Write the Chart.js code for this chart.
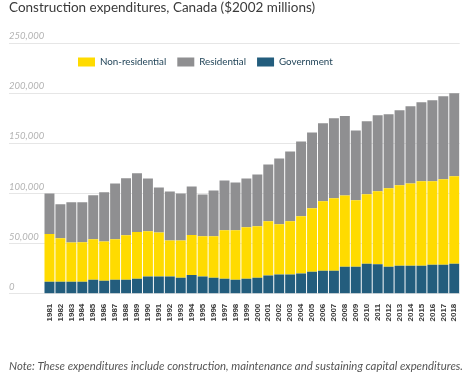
<!DOCTYPE html>
<html>
<head>
<meta charset="utf-8">
<script src="https://cdn.jsdelivr.net/npm/chart.js@4.4.1/dist/chart.umd.min.js"></script>
<style>
  html, body { margin: 0; padding: 0; background: #ffffff; }
  #wrap { width: 474px; height: 381px; position: relative; }
</style>
</head>
<body>
<div id="wrap"><canvas id="c"></canvas></div>
<script>
const years = ['1981','1982','1983','1984','1985','1986','1987','1988','1989','1990','1991','1992','1993','1994','1995','1996','1997','1998','1999','2000','2001','2002','2003','2004','2005','2006','2007','2008','2009','2010','2011','2012','2013','2014','2015','2016','2017','2018'];
const government = [12000,12000,12000,12000,14000,13000,14000,14000,15000,17300,17300,17300,16000,18700,17300,16000,15000,14000,15000,16000,18300,19300,19300,20300,22000,23000,23000,27000,27000,30000,29300,27000,28000,28000,28000,29000,29000,30000];
const nonResidential = [47700,43300,39000,39300,40300,39000,40300,44300,46700,45000,43700,35700,37000,40000,40000,41300,48300,49300,51300,51300,54000,50000,53000,57000,63300,69300,72300,71000,66300,69300,73000,78300,80300,82000,84300,83300,85300,87300];
const residential = [40300,34000,40300,40000,44000,49300,55700,57000,58600,52700,45000,49000,47000,48300,41700,45700,49700,47700,48700,51700,56700,65700,69700,74700,75700,77700,79700,79300,69700,72700,75700,73700,74700,77000,78700,80700,82700,82700];
const yTicks = [0, 50000, 100000, 150000, 200000, 250000];
const titleText = 'Construction expenditures, Canada ($2002 millions)';
const noteText = 'Note: These expenditures include construction, maintenance and sustaining capital expenditures.';
const legendOrder = ['Non-residential', 'Residential', 'Government'];

// place the legend inside the plot, just under the top gridline
const legendPlace = {
  id: 'legendPlace',
  afterLayout(chart) {
    const lg = chart.legend;
    if (lg) {
      lg.left = 67; lg.right = chart.chartArea.right;
      lg.top = chart.chartArea.top + 3; lg.bottom = lg.top + 34;
      lg.width = lg.right - lg.left; lg.height = lg.bottom - lg.top;
    }
  }
};

new Chart(document.getElementById('c'), {
  type: 'bar',
  data: {
    labels: years,
    datasets: [
      { label: 'Government', data: government, backgroundColor: '#235d7d' },
      { label: 'Non-residential', data: nonResidential, backgroundColor: '#ffdb00' },
      { label: 'Residential', data: residential, backgroundColor: '#8f8f91' }
    ]
  },
  options: {
    responsive: true,
    maintainAspectRatio: false,
    animation: false,
    layout: { padding: { left: 9, right: 11, top: 0, bottom: 0 } },
    datasets: { bar: { barPercentage: 0.91, categoryPercentage: 1.0, borderWidth: 0 } },
    plugins: {
      title: {
        display: true,
        text: titleText,
        align: 'start',
        color: '#3a3a3a',
        font: { family: 'Lato', size: 13.5, weight: 'normal' },
        padding: { top: 0, bottom: 27 }
      },
      subtitle: {
        display: true,
        position: 'bottom',
        text: noteText,
        align: 'start',
        color: '#555555',
        font: { family: 'Lato', size: 11.9, style: 'italic', weight: 'normal' },
        padding: { top: 34, bottom: 8 }
      },
      legend: {
        position: 'bottom',
        align: 'start',
        maxHeight: 1,
        labels: {
          boxWidth: 17,
          boxHeight: 9,
          padding: 11,
          color: '#23465a',
          font: { family: 'Lato', size: 9.8 },
          sort: (a, b) => legendOrder.indexOf(a.text) - legendOrder.indexOf(b.text)
        }
      },
      tooltip: { enabled: false }
    },
    scales: {
      x: {
        stacked: true,
        offset: true,
        afterFit(scale) { scale.height = 30; },
        grid: { display: false, drawTicks: false, tickLength: 0 },
        border: { display: false },
        ticks: {
          autoSkip: false,
          minRotation: 90,
          maxRotation: 90,
          padding: 10,
          color: '#3a3a3a',
          font: { family: 'Liberation Sans', size: 8, weight: 'bold' }
        }
      },
      y: {
        stacked: true,
        min: 0,
        max: 250000,
        afterBuildTicks(scale) { scale.ticks = yTicks.map(v => ({ value: v })); },
        afterFit(scale) { scale.width = 35; },
        grid: { color: '#e6e6e6', tickColor: '#e6e6e6', tickLength: 35, lineWidth: 1 },
        border: { display: false },
        ticks: {
          crossAlign: 'far',
          labelOffset: -7,
          color: '#b3b3b3',
          font: { family: 'Lato', size: 9.5, style: 'italic' },
          callback: (v) => v.toLocaleString('en-US')
        }
      }
    }
  },
  plugins: [legendPlace]
});
</script>
</body>
</html>
